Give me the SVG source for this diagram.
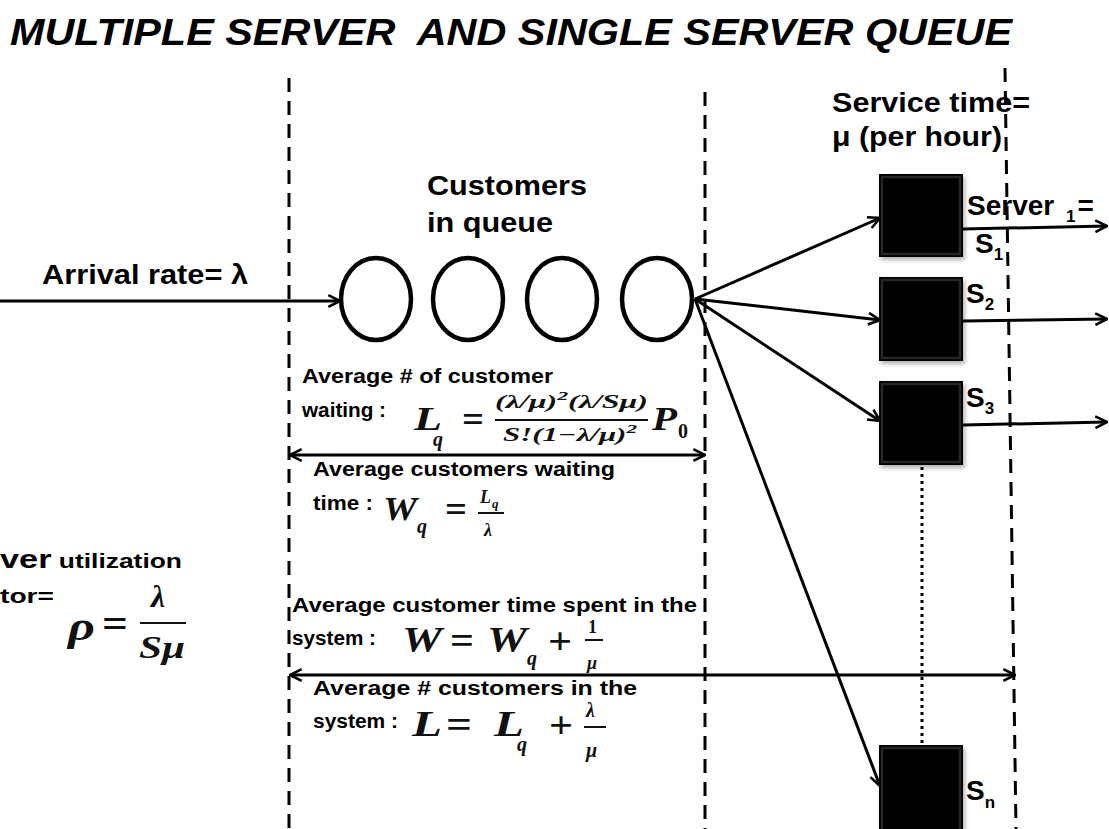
<svg xmlns="http://www.w3.org/2000/svg" width="1109" height="829" viewBox="0 0 1109 829">
<style>
.bg{fill:#fff}
.title{font-family:"Liberation Sans",Arial,sans-serif;font-style:italic;font-weight:bold;font-size:37px;fill:#000;white-space:pre}
.lbl{font-family:"Liberation Sans",Arial,sans-serif;font-weight:bold;font-size:28px;fill:#000}
.sm{font-family:"Liberation Sans",Arial,sans-serif;font-weight:bold;font-size:20px;fill:#000}
.sub{font-family:"Liberation Sans",Arial,sans-serif;font-weight:bold;font-size:17px;fill:#000}
.m{font-family:"Liberation Serif","Times New Roman",serif;font-weight:bold;font-style:italic;fill:#111}
.mu{font-family:"Liberation Serif","Times New Roman",serif;font-weight:bold;fill:#111}
.dash{stroke:#000;stroke-width:3;stroke-dasharray:14 9;fill:none}
.dot{stroke:#000;stroke-width:3;stroke-dasharray:3 4;fill:none}
.arr{stroke:#000;stroke-width:3;fill:none}
.bar{stroke:#111;stroke-width:2}
.circ{fill:#fff;stroke:#000;stroke-width:4.5}
.box{fill:#000}
.bevel{fill:none;stroke:#262626;stroke-width:2.5}
</style>
<defs>
<marker id="ah" viewBox="0 0 12 12" refX="11" refY="6" markerWidth="14" markerHeight="14" markerUnits="userSpaceOnUse" orient="auto-start-reverse">
<path d="M1,1 L11,6 L1,11" fill="none" stroke="#000" stroke-width="2.2"/>
</marker>
<filter id="sh" x="-10%" y="-10%" width="130%" height="130%">
<feDropShadow dx="2" dy="3" stdDeviation="2" flood-color="#000" flood-opacity="0.3"/>
</filter>
</defs>
<rect class="bg" x="0" y="0" width="1109" height="829"/>

<text class="title" x="10" y="45" textLength="1002" lengthAdjust="spacingAndGlyphs">MULTIPLE SERVER  AND SINGLE SERVER QUEUE</text>

<g id="dividers">
<line class="dash" x1="289" y1="78" x2="289" y2="829"/>
<line class="dash" x1="705" y1="92" x2="705" y2="829"/>
<line class="dash" x1="1005" y1="68" x2="1016" y2="829"/>
</g>

<g id="connectors">
<line class="arr" x1="0" y1="301" x2="340" y2="301" marker-end="url(#ah)"/>
<line class="arr" x1="695" y1="299" x2="880" y2="218" marker-end="url(#ah)"/>
<line class="arr" x1="695" y1="299" x2="880" y2="320" marker-end="url(#ah)"/>
<line class="arr" x1="695" y1="299" x2="880" y2="421" marker-end="url(#ah)"/>
<line class="arr" x1="695" y1="299" x2="880" y2="786" marker-end="url(#ah)"/>
<line class="arr" x1="963" y1="229" x2="1107" y2="226" marker-end="url(#ah)"/>
<line class="arr" x1="963" y1="321" x2="1107" y2="319" marker-end="url(#ah)"/>
<line class="arr" x1="963" y1="425" x2="1107" y2="422" marker-end="url(#ah)"/>
<line class="arr" x1="290" y1="455" x2="705" y2="455" marker-start="url(#ah)" marker-end="url(#ah)"/>
<line class="arr" x1="290" y1="675" x2="1015" y2="675" marker-start="url(#ah)" marker-end="url(#ah)"/>
<line class="dot" x1="922" y1="467" x2="922" y2="744"/>
</g>

<g id="arrival">
<text class="lbl" x="42" y="284" textLength="206" lengthAdjust="spacingAndGlyphs">Arrival rate= λ</text>
</g>

<g id="queue">
<text class="lbl" x="427" y="195" textLength="160" lengthAdjust="spacingAndGlyphs">Customers</text>
<text class="lbl" x="427" y="232" textLength="126" lengthAdjust="spacingAndGlyphs">in queue</text>
<ellipse class="circ" cx="376" cy="299" rx="35" ry="41"/>
<ellipse class="circ" cx="468" cy="299" rx="35" ry="41"/>
<ellipse class="circ" cx="562" cy="299" rx="35" ry="41"/>
<ellipse class="circ" cx="657" cy="299" rx="35" ry="41"/>
</g>

<g id="service-label">
<text class="lbl" x="832" y="112" textLength="198" lengthAdjust="spacingAndGlyphs">Service time=</text>
<text class="lbl" x="832" y="146" textLength="170" lengthAdjust="spacingAndGlyphs">μ (per hour)</text>
</g>

<g id="server1">
<rect class="box" x="879" y="174" width="84" height="83" filter="url(#sh)"/>
<rect class="bevel" x="882" y="177" width="78" height="77"/>
<text class="lbl" x="967" y="215" font-size="29">Server <tspan class="sub" dx="4" dy="7">1</tspan><tspan dx="2" dy="-7">=</tspan></text>
<text class="lbl" x="975" y="253">S<tspan class="sub" dy="7">1</tspan></text>
</g>

<g id="server2">
<rect class="box" x="879" y="277" width="84" height="84" filter="url(#sh)"/>
<rect class="bevel" x="882" y="280" width="78" height="78"/>
<text class="lbl" x="966" y="303">S<tspan class="sub" dy="7">2</tspan></text>
</g>

<g id="server3">
<rect class="box" x="879" y="381" width="84" height="84" filter="url(#sh)"/>
<rect class="bevel" x="882" y="384" width="78" height="78"/>
<text class="lbl" x="966" y="407">S<tspan class="sub" dy="7">3</tspan></text>
</g>

<g id="servern">
<rect class="box" x="879" y="745" width="84" height="90" filter="url(#sh)"/>
<rect class="bevel" x="882" y="748" width="78" height="90"/>
<text class="lbl" x="966" y="800">S<tspan class="sub" dy="8">n</tspan></text>
</g>

<g id="lq">
<text class="sm" x="302" y="383" textLength="251" lengthAdjust="spacingAndGlyphs">Average # of customer</text>
<text class="sm" x="302" y="417" textLength="84" lengthAdjust="spacingAndGlyphs">waiting :</text>
<text class="m" x="414" y="430" font-size="34" textLength="28" lengthAdjust="spacingAndGlyphs">L</text>
<text class="m" x="433" y="446" font-size="20">q</text>
<text class="mu" x="462" y="432" font-size="38" textLength="22" lengthAdjust="spacingAndGlyphs">=</text>
<text class="m" x="495" y="408" font-size="19" textLength="153" lengthAdjust="spacingAndGlyphs">(λ/μ)<tspan dy="-8" font-size="13">2</tspan><tspan dy="8">(λ/Sμ)</tspan></text>
<line class="bar" x1="495" y1="420" x2="648" y2="420"/>
<text class="m" x="503" y="441" font-size="19" textLength="134" lengthAdjust="spacingAndGlyphs">S!(<tspan class="mu">1</tspan>−λ/μ)<tspan dy="-8" font-size="13">2</tspan></text>
<text class="m" x="652" y="430" font-size="34" textLength="25" lengthAdjust="spacingAndGlyphs">P</text>
<text class="mu" x="678" y="438" font-size="20">0</text>
</g>

<g id="wq">
<text class="sm" x="313" y="476" textLength="302" lengthAdjust="spacingAndGlyphs">Average customers waiting</text>
<text class="sm" x="313" y="510" textLength="60" lengthAdjust="spacingAndGlyphs">time :</text>
<text class="m" x="383" y="520" font-size="34" textLength="34" lengthAdjust="spacingAndGlyphs">W</text>
<text class="m" x="417" y="533" font-size="20">q</text>
<text class="mu" x="445" y="522" font-size="38" textLength="22" lengthAdjust="spacingAndGlyphs">=</text>
<text class="m" x="480" y="503" font-size="18">L</text>
<text class="m" x="492" y="508" font-size="13">q</text>
<line class="bar" x1="478" y1="513" x2="504" y2="513"/>
<text class="m" x="484" y="536" font-size="18">λ</text>
</g>

<g id="rho">
<text class="sm" x="0" y="568" font-size="23" textLength="182" lengthAdjust="spacingAndGlyphs"><tspan font-size="26">ver</tspan> utilization</text>
<text class="sm" x="0" y="603" font-size="26" textLength="54" lengthAdjust="spacingAndGlyphs">tor=</text>
<text class="m" x="68" y="640" font-size="40" textLength="27" lengthAdjust="spacingAndGlyphs">ρ</text>
<text class="mu" x="102" y="637" font-size="42" textLength="26" lengthAdjust="spacingAndGlyphs">=</text>
<text class="m" x="151" y="607" font-size="32">λ</text>
<line class="bar" x1="140" y1="623" x2="186" y2="623" stroke-width="2.5"/>
<text class="m" x="139" y="658" font-size="32" textLength="46" lengthAdjust="spacingAndGlyphs">Sμ</text>
</g>

<g id="w">
<text class="sm" x="292" y="612" textLength="405" lengthAdjust="spacingAndGlyphs">Average customer time spent in the</text>
<text class="sm" x="292" y="645" textLength="84" lengthAdjust="spacingAndGlyphs">system :</text>
<text class="m" x="402" y="652" font-size="36" textLength="40" lengthAdjust="spacingAndGlyphs">W</text>
<text class="mu" x="450" y="654" font-size="40" textLength="24" lengthAdjust="spacingAndGlyphs">=</text>
<text class="m" x="487" y="652" font-size="36" textLength="40" lengthAdjust="spacingAndGlyphs">W</text>
<text class="m" x="527" y="665" font-size="20">q</text>
<text class="mu" x="548" y="654" font-size="38" textLength="24" lengthAdjust="spacingAndGlyphs">+</text>
<text class="mu" x="588" y="633" font-size="18">1</text>
<line class="bar" x1="585" y1="640" x2="603" y2="640"/>
<text class="m" x="587" y="669" font-size="18">μ</text>
</g>

<g id="l">
<text class="sm" x="313" y="695" textLength="324" lengthAdjust="spacingAndGlyphs">Average # customers in the</text>
<text class="sm" x="313" y="728" textLength="85" lengthAdjust="spacingAndGlyphs">system :</text>
<text class="m" x="412" y="736" font-size="36" textLength="30" lengthAdjust="spacingAndGlyphs">L</text>
<text class="mu" x="446" y="738" font-size="40" textLength="26" lengthAdjust="spacingAndGlyphs">=</text>
<text class="m" x="494" y="736" font-size="36" textLength="30" lengthAdjust="spacingAndGlyphs">L</text>
<text class="m" x="517" y="751" font-size="20">q</text>
<text class="mu" x="549" y="738" font-size="38" textLength="24" lengthAdjust="spacingAndGlyphs">+</text>
<text class="m" x="586" y="717" font-size="20">λ</text>
<line class="bar" x1="584" y1="727" x2="606" y2="727"/>
<text class="m" x="586" y="757" font-size="20">μ</text>
</g>
</svg>
